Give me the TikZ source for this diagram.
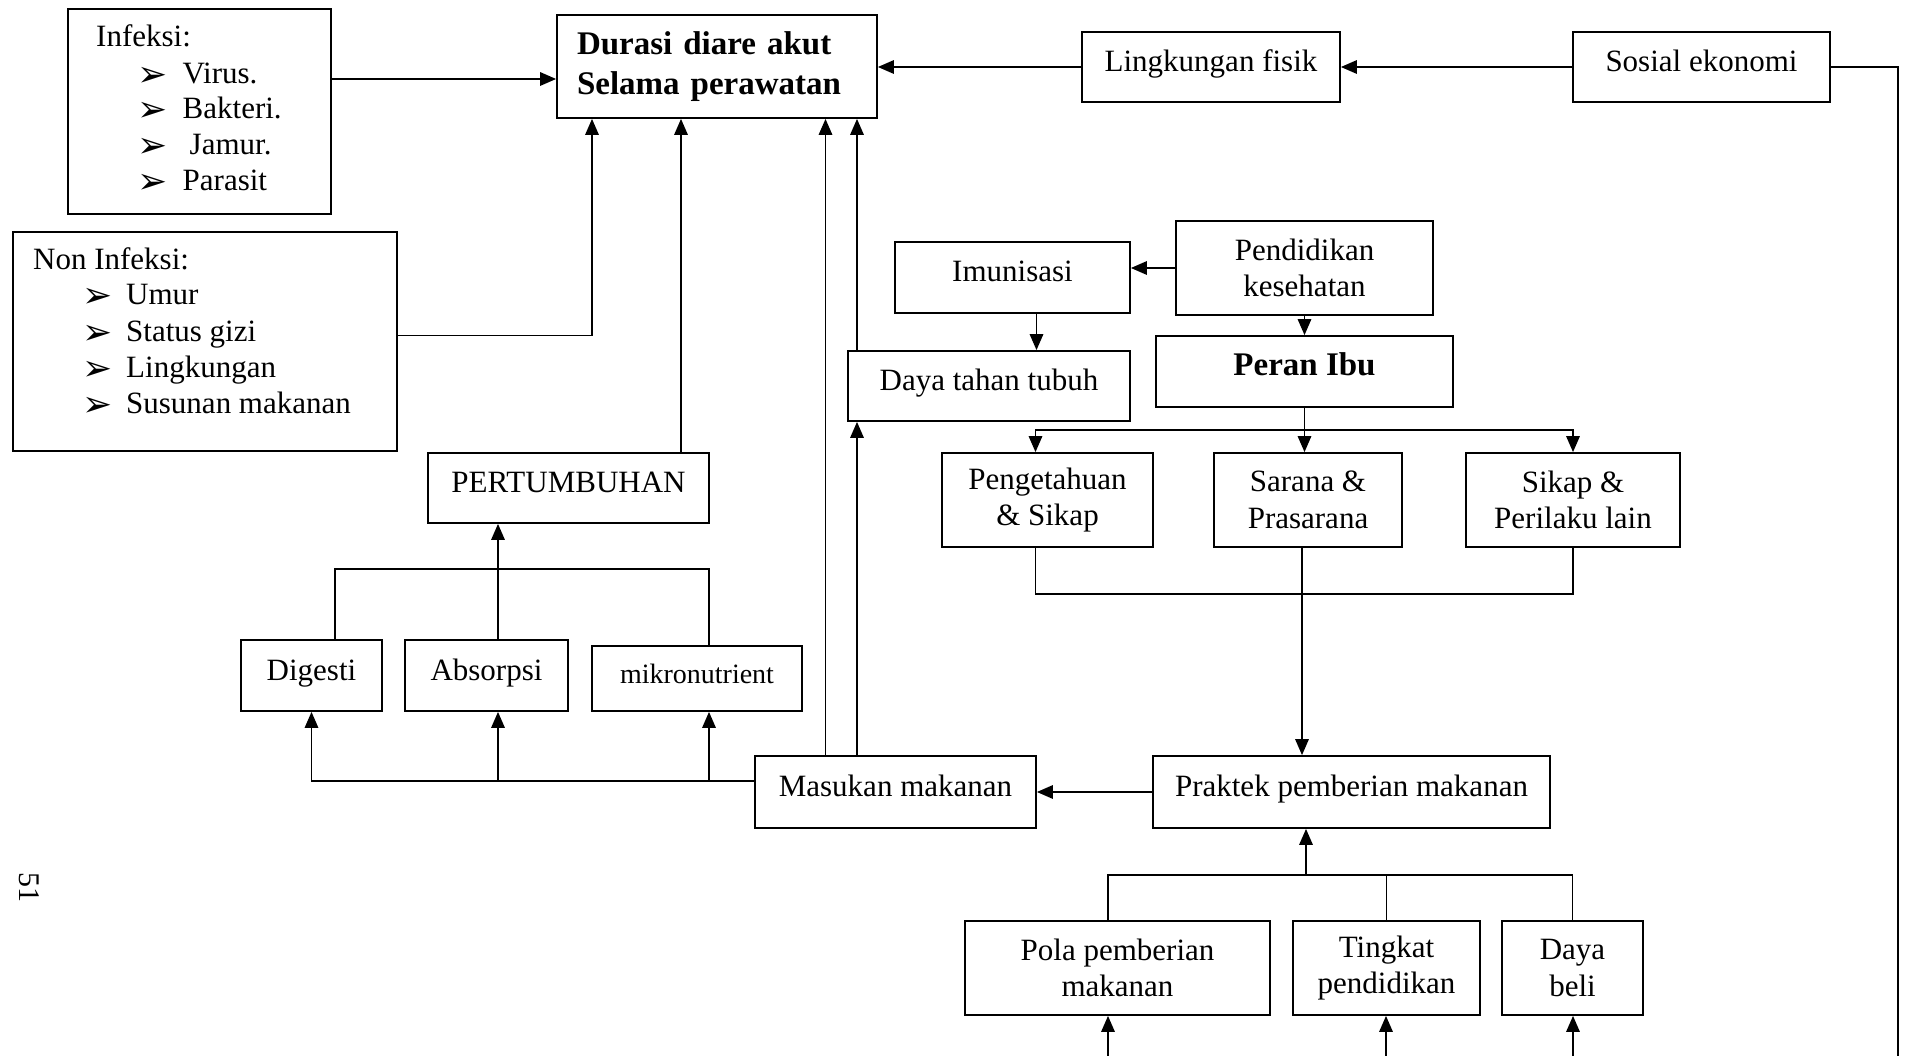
\documentclass[tikz,border=0pt]{standalone}
\usepackage{fontspec}
\setmainfont{Liberation Serif}
\newfontfamily\bulfont{DejaVu Sans}
\usetikzlibrary{arrows.meta,calc}
\newcommand{\bul}{\raisebox{-3pt}{\smash{\bulfont\fontsize{36}{36}\selectfont ➢}}}
\begin{document}
\begin{tikzpicture}[x=1pt,y=-1pt,
  box/.style={draw,line width=1.8pt,inner sep=0pt,align=center,font=\fontsize{31}{36.5}\selectfont},
  one/.style={text height=22pt,text depth=13pt},
  txt/.style={inner sep=0pt,anchor=base west,font=\fontsize{31}{36.5}\selectfont},
  arr/.style={line width=1.6pt,-{Triangle[length=16pt,width=13.5pt]}},
  con/.style={line width=1.6pt}]
\fill[white] (0,0) rectangle (1906,1056);
\useasboundingbox (0,0) rectangle (1906,1056);
% boxes
\node[box,minimum width=263pt,minimum height=205pt] (infeksi) at (199.5,111.5) {};
\node[box,minimum width=320pt,minimum height=103pt,align=left,text width=280pt,font=\bfseries\fontsize{33}{40}\selectfont] (durasi) at (717,66.5) {Durasi diare akut\\Selama perawatan};
\node[box,one,minimum width=258pt,minimum height=70pt] (lingk) at (1211,67) {Lingkungan fisik};
\node[box,one,minimum width=257pt,minimum height=70pt] (sosial) at (1701.5,67) {Sosial ekonomi};
\node[box,minimum width=384pt,minimum height=219pt] (noninf) at (205,341.5) {};
\node[box,minimum width=257pt,minimum height=94pt] (pendk) at (1304.5,268) {Pendidikan\\kesehatan};
\node[box,one,minimum width=235pt,minimum height=71pt] (imun) at (1012.5,277.5) {Imunisasi};
\node[box,one,minimum width=282pt,minimum height=70pt] (daya) at (989,386) {Daya tahan tubuh};
\node[box,one,minimum width=297pt,minimum height=71pt,font=\bfseries\fontsize{33}{40}\selectfont] (peran) at (1304.5,371.5) {Peran Ibu};
\node[box,minimum width=211pt,minimum height=94pt] (peng) at (1047.5,500) {Pengetahuan\\\& Sikap};
\node[box,minimum width=188pt,minimum height=94pt] (sarana) at (1308,500) {Sarana \&\\Prasarana};
\node[box,minimum width=214pt,minimum height=94pt] (sikap) at (1573,500) {Sikap \&\\Perilaku lain};
\node[box,one,minimum width=281pt,minimum height=70pt] (pert) at (568.5,488) {PERTUMBUHAN};
\node[box,one,minimum width=141pt,minimum height=71pt] (dig) at (311.5,675.5) {Digesti};
\node[box,one,minimum width=163pt,minimum height=71pt] (abs) at (486.5,675.5) {Absorpsi};
\node[box,one,minimum width=210pt,minimum height=65pt,font=\fontsize{28}{33}\selectfont] (mikro) at (697,678.5) {mikronutrient};
\node[box,one,minimum width=281pt,minimum height=72pt] (masukan) at (895.5,792) {Masukan makanan};
\node[box,one,minimum width=397pt,minimum height=72pt] (praktek) at (1351.5,792) {Praktek pemberian makanan};
\node[box,minimum width=305pt,minimum height=94pt] (pola) at (1117.5,968) {Pola pemberian\\makanan};
\node[box,minimum width=187pt,minimum height=94pt] (tingkat) at (1386.5,968) {Tingkat\\pendidikan};
\node[box,minimum width=141pt,minimum height=94pt] (dayabeli) at (1572.5,968) {Daya\\beli};
% list texts
\node[txt] (t1) at (96,46.7) {Infeksi:};
\node[txt] (t2) at (137,83.3) {\makebox[45.5pt][l]{\bul}Virus.};
\node[txt] (t3) at (137,119) {\makebox[45.5pt][l]{\bul}Bakteri.};
\node[txt] (t4) at (137,155) {\makebox[45.5pt][l]{\bul}\hspace{7pt}Jamur.};
\node[txt] (t5) at (137,190.7) {\makebox[45.5pt][l]{\bul}Parasit};
\node[txt] (n1) at (33,269.3) {Non Infeksi:};
\node[txt] (n2) at (82,305) {\makebox[44pt][l]{\bul}Umur};
\node[txt] (n3) at (82,341.7) {\makebox[44pt][l]{\bul}Status gizi};
\node[txt] (n4) at (82,377.7) {\makebox[44pt][l]{\bul}Lingkungan};
\node[txt] (n5) at (82,413.3) {\makebox[44pt][l]{\bul}Susunan makanan};
\node[rotate=-90,inner sep=0pt,font=\fontsize{30}{30}\selectfont] (pnum) at (29,887) {51};
% connectors
\coordinate (infE) at ($(infeksi.east)+(0,-32.5)$);
\draw[arr] (infE) -- (infE -| durasi.west);
\coordinate (nonE) at ($(noninf.east)+(0,-5.8)$);
\coordinate (durS1) at ($(durasi.south)+(-125,0)$);
\draw[arr] (nonE) -| (durS1);
\coordinate (pertN) at ($(pert.north)+(112.5,0)$);
\draw[arr] (pertN) -- (pertN |- durasi.south);
\coordinate (masN1) at ($(masukan.north)+(-70,0)$);
\draw[arr] (masN1) -- (masN1 |- durasi.south);
\coordinate (masN2) at ($(masukan.north)+(-38.5,0)$);
\draw[arr] (masN2) -- (masN2 |- daya.south);
\coordinate (dayaN) at ($(daya.north)+(-132,0)$);
\draw[arr] (dayaN) -- (dayaN |- durasi.south);
\draw[arr] (lingk.west) -- (durasi.east |- lingk.west);
\draw[arr] (sosial.west) -- (lingk.east);
\coordinate (sosend) at (1898,1056);
\draw[con] (sosial.east) -| (sosend);
\draw[arr] (pendk.west) -- (pendk.west -| imun.east);
\coordinate (imunS) at ($(imun.south)+(24,0)$);
\draw[arr] (imunS) -- (imunS |- daya.north);
\draw[arr] (pendk.south) -- (peran.north);
\coordinate (bus1) at ($(peran.south)+(0,22)$);
\coordinate (pengN) at ($(peng.north)+(-12,0)$);
\draw[arr] (peran.south) -- (peran.south |- sarana.north);
\draw[arr] (bus1) -| (pengN);
\draw[arr] (bus1) -| (sikap.north);
\coordinate (bus2) at ($(sarana.south)+(-6,46)$);
\coordinate (pengS) at ($(peng.south)+(-12,0)$);
\coordinate (sarS) at ($(sarana.south)+(-6,0)$);
\draw[con] (pengS) |- (bus2) -| (sikap.south);
\draw[arr] (sarS) -- (sarS |- praktek.north);
\draw[arr] (praktek.west) -- (praktek.west -| masukan.east);
\coordinate (bus3) at ($(masukan.west)+(0,-11)$);
\coordinate (absS) at ($(abs.south)+(11.5,0)$);
\coordinate (mikS) at ($(mikro.south)+(12,0)$);
\draw[arr] (bus3) -| (dig.south);
\draw[arr] (absS |- bus3) -- (absS);
\draw[arr] (mikS |- bus3) -- (mikS);
\coordinate (bus4) at ($(abs.north)+(11.5,-70.4)$);
\coordinate (digN) at ($(dig.north)+(23.5,0)$);
\coordinate (absN) at ($(abs.north)+(11.5,0)$);
\coordinate (mikN) at ($(mikro.north)+(12,0)$);
\draw[con] (digN) |- (bus4) -| (mikN);
\draw[arr] (absN) -- (absN |- pert.south);
\coordinate (bus5) at ($(praktek.south)+(-45.5,46)$);
\coordinate (polaN) at ($(pola.north)+(-9.5,0)$);
\draw[con] (polaN) |- (bus5) -| (dayabeli.north);
\draw[con] (tingkat.north) -- (tingkat.north |- bus5);
\draw[arr] (bus5) -- (bus5 |- praktek.south);
\coordinate (in1) at (1108,1056);
\coordinate (in2) at (1386,1056);
\coordinate (in3) at (1573,1056);
\draw[arr] (in1) -- (in1 |- pola.south);
\draw[arr] (in2) -- (in2 |- tingkat.south);
\draw[arr] (in3) -- (in3 |- dayabeli.south);
\end{tikzpicture}
\end{document}
